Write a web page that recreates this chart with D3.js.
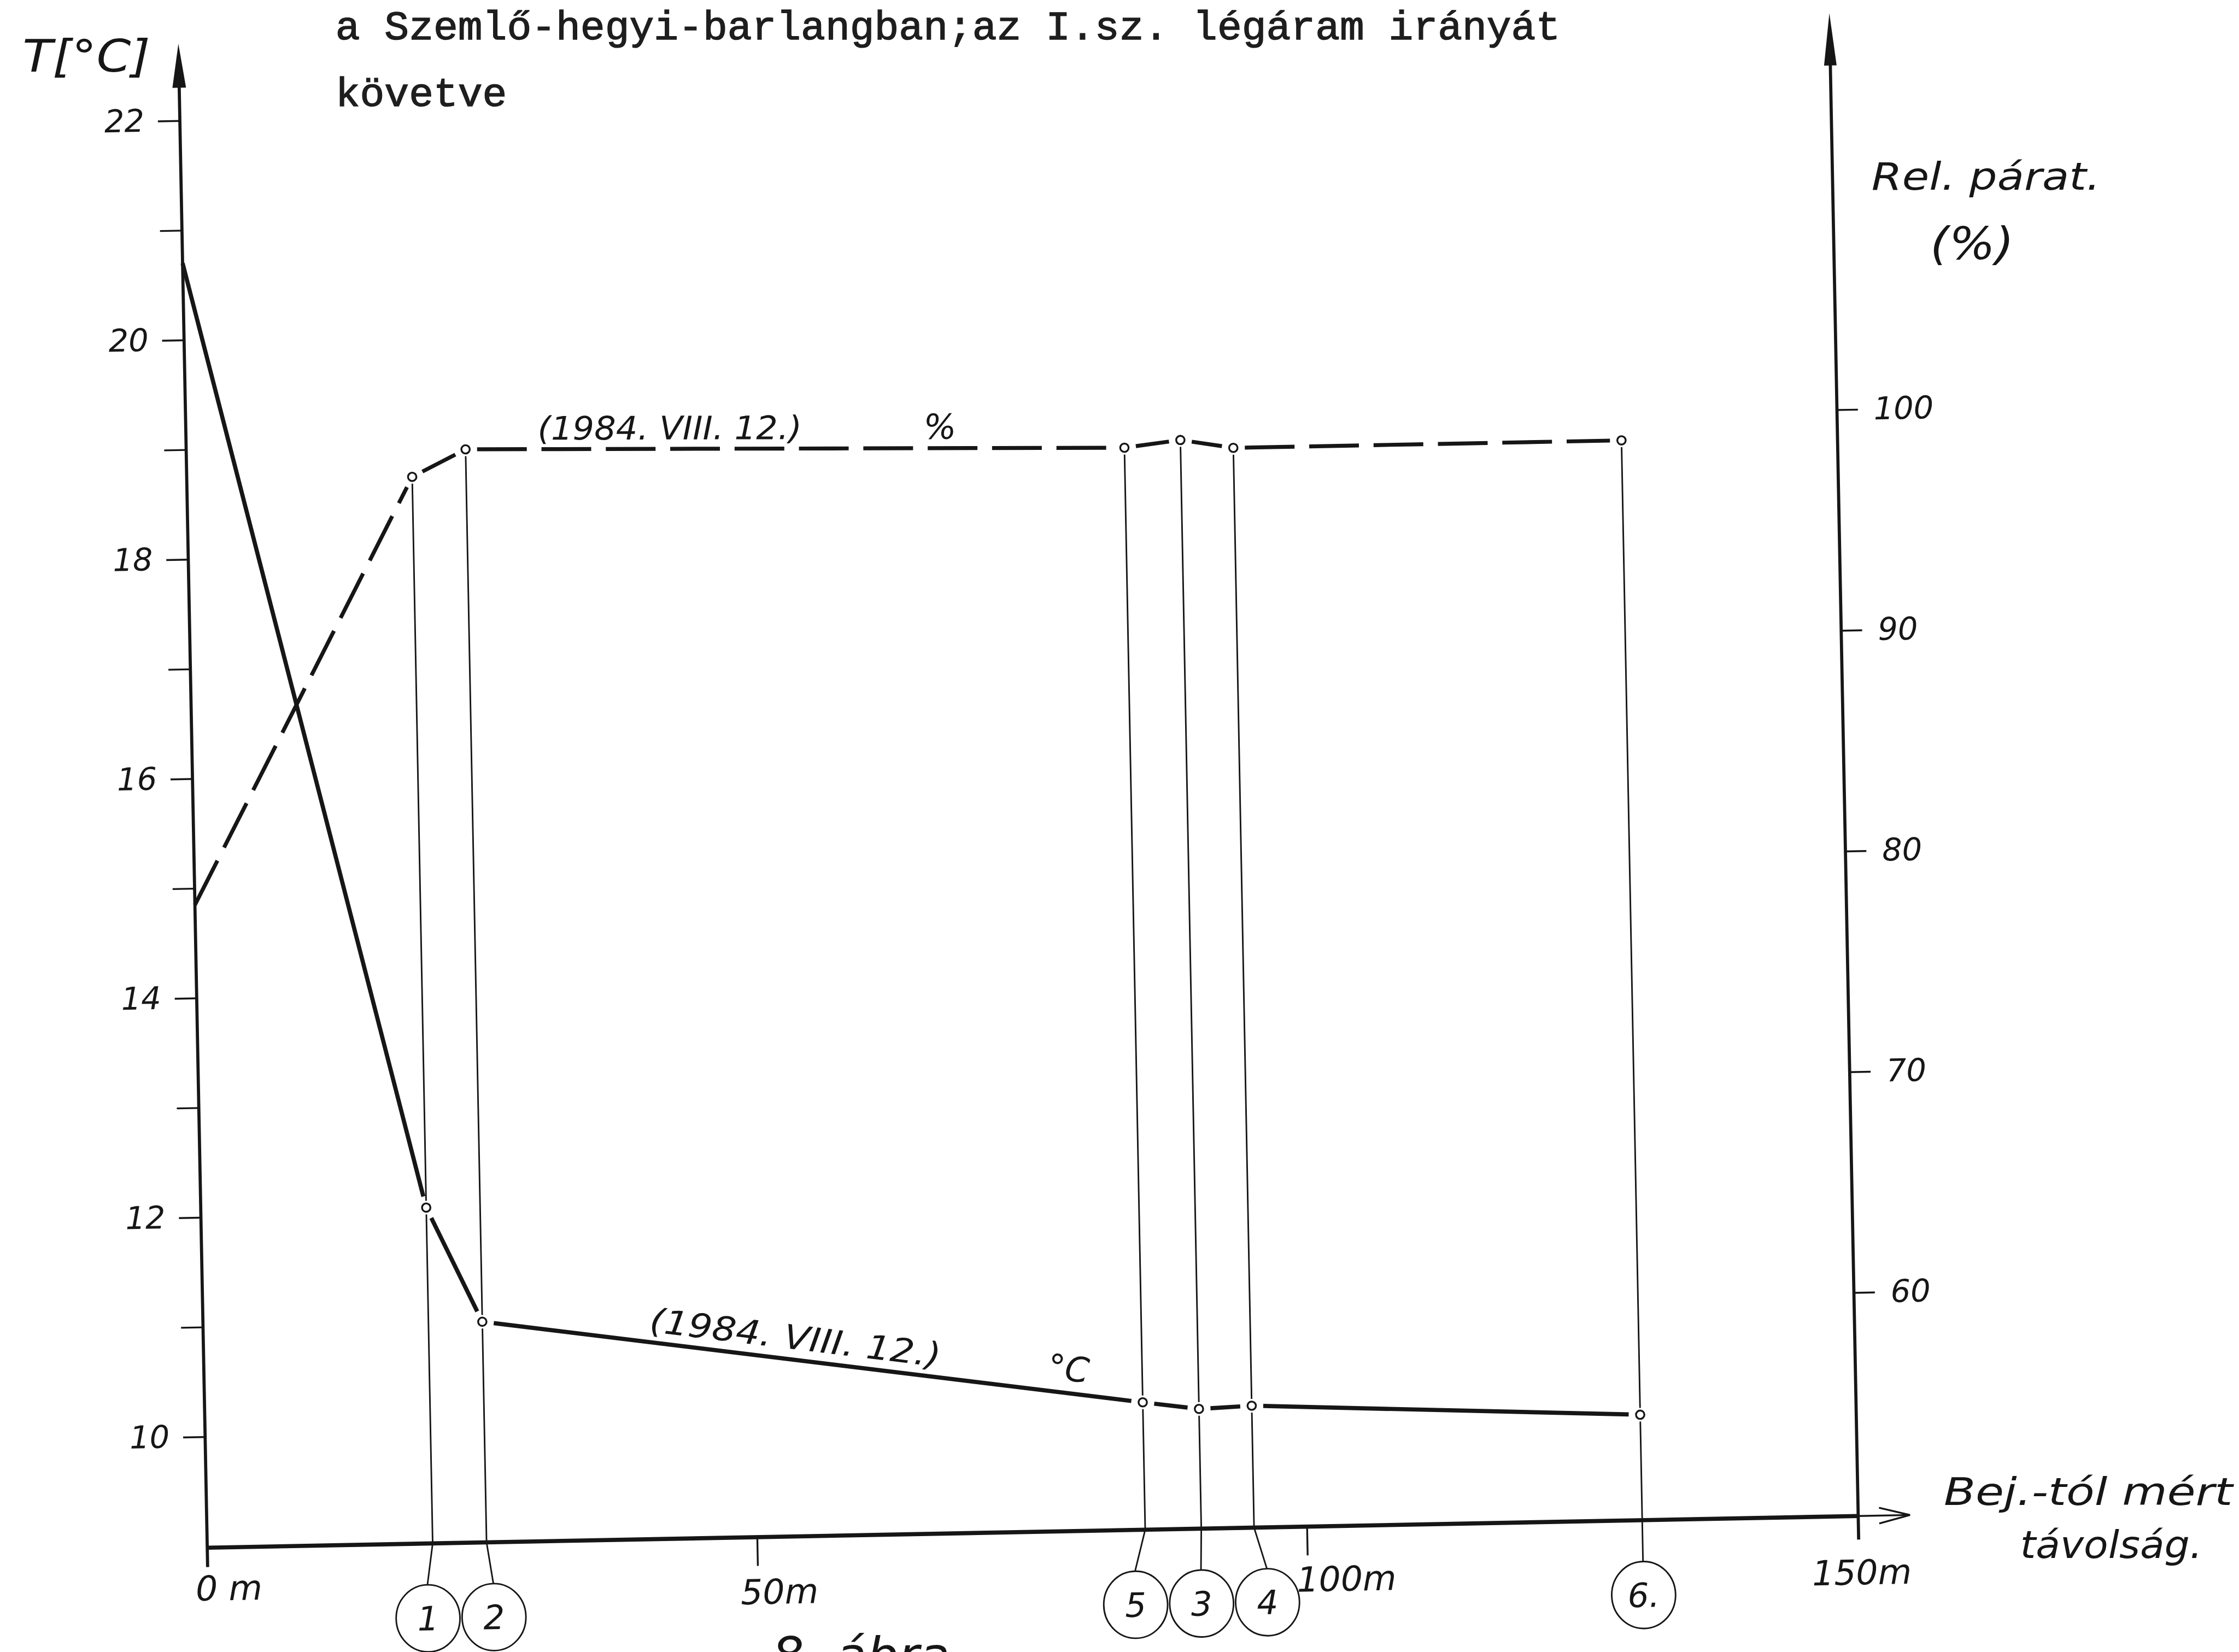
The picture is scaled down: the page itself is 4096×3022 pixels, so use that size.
<!DOCTYPE html>
<html>
<head>
<meta charset="utf-8">
<script src="https://cdn.jsdelivr.net/npm/d3@7"></script>
<style>
  html, body { margin: 0; padding: 0; background: #fff; overflow: hidden; }
  svg { display: block; }
  .hand { font-family: "DejaVu Sans", sans-serif; font-style: italic; font-weight: 200; }
  .typed { font-family: "Liberation Mono", "DejaVu Sans Mono", monospace; font-weight: normal; }
</style>
</head>
<body>
<svg id="chart"></svg>
<script>
// stations along the I. air current, distance from the entrance (m)
const distances = [0, 20.5, 25.4, 85.3, 90.4, 95.2, 130.5];
const temperature = [20.7, 12.05, 11.0, 10.15, 10.08, 10.1, 9.95];   // °C
const humidity = [79.0, 98.2, 99.4, 98.9, 99.2, 98.8, 98.8];         // %
const stationLabels = [null, "1", "2", "5", "3", "4", "6."];

const tempTicks = d3.range(10, 23);                 // labelled every 2 °C
const humidityTicks = [60, 70, 80, 90, 100];
const distanceTicks = [0, 50, 100, 150];
const distanceTickLabels = ["0 m", "50m", "100m", "150m"];

const titleLines = ["a Szemlő-hegyi-barlangban;az I.sz. légáram irányát", "követve"];
const dateLabel = "(1984. VIII. 12.)";

const W = 4278, H = 3156;
const ink = "#161616";

const svg = d3.select("#chart")
  .attr("width", 4096)
  .attr("height", 3022)
  .attr("viewBox", `0 0 ${W} ${H}`);

svg.append("rect").attr("width", W).attr("height", H).attr("fill", "#fff");

// the drawing sits slightly rotated on the sheet
const g = svg.append("g").attr("transform", "translate(391,2957) rotate(-1.1)");

const x = d3.scaleLinear().domain([0, 150]).range([5, 3157]);
const yT = d3.scaleLinear().domain([10, 22]).range([-212, -2727]);
const yH = d3.scaleLinear().domain([60, 100]).range([-427, -2114]);

const x0 = x(0), xR = x(150) + 3;

// ---- axes ----
function styleAxis(sel, size) {
  sel.attr("font-size", null).attr("font-family", null);
  sel.select(".domain").remove();
  sel.selectAll("line").attr("stroke", ink).attr("stroke-width", 3.5);
  sel.selectAll("text").attr("class", "hand").attr("font-size", size).attr("fill", ink);
}

g.append("g")
  .attr("transform", `translate(${x0},0)`)
  .call(d3.axisLeft(yT).tickValues(tempTicks).tickSize(42).tickPadding(26).tickSizeOuter(0)
    .tickFormat(d => d % 2 === 0 ? d : ""))
  .call(s => styleAxis(s, 60));

g.append("g")
  .attr("transform", `translate(${xR},0)`)
  .call(d3.axisRight(yH).tickValues(humidityTicks).tickSize(40).tickPadding(30).tickSizeOuter(0))
  .call(s => styleAxis(s, 60));

g.append("g")
  .call(d3.axisBottom(x).tickValues([50, 100]).tickSize(55).tickSizeOuter(0).tickFormat(""))
  .call(s => styleAxis(s, 60));

// left axis with arrow
g.append("line").attr("x1", x0).attr("x2", x0).attr("y1", 37).attr("y2", -2800)
  .attr("stroke", ink).attr("stroke-width", 6);
g.append("path").attr("d", `M${x0},-2874 L${x0 - 13},-2790 L${x0 + 13},-2790 Z`).attr("fill", ink);

// right axis with arrow
g.append("line").attr("x1", xR).attr("x2", xR).attr("y1", 45).attr("y2", -2790)
  .attr("stroke", ink).attr("stroke-width", 6);
g.append("path").attr("d", `M${xR},-2872 L${xR - 12},-2772 L${xR + 12},-2772 Z`).attr("fill", ink);

// distance axis
g.append("line").attr("x1", x0).attr("x2", xR).attr("y1", 0).attr("y2", 0)
  .attr("stroke", ink).attr("stroke-width", 8);
g.append("line").attr("x1", xR).attr("x2", 3258).attr("y1", 0).attr("y2", 0)
  .attr("stroke", ink).attr("stroke-width", 3.5);
g.append("path").attr("d", "M3200,-15 L3259,0 L3200,15")
  .attr("fill", "none").attr("stroke", ink).attr("stroke-width", 3.5);

// distance labels (hand placed beside the ticks)
const labelNudge = { 0: [40, -27], 50: [41, 0], 100: [74, -4], 150: [8, 3] };
g.selectAll(".xlab").data(distanceTicks).join("text")
  .attr("class", "hand")
  .attr("x", d => x(d) + labelNudge[d][0])
  .attr("y", d => 128 + labelNudge[d][1])
  .attr("text-anchor", "middle")
  .attr("font-size", 66)
  .attr("fill", ink)
  .text((d, i) => distanceTickLabels[i]);

// ---- measuring stations: verticals, circled numbers ----
const gap = 22;
const stationIdx = d3.range(1, distances.length);
const circleRx = 61, circleRy = 64, circleCy = 143;

// spread circled numbers so that neighbours do not overlap
function spread(xs, minGap) {
  let groups = xs.map((v, i) => [i]);
  const place = grp => {
    const m = d3.mean(grp, i => xs[i]);
    return grp.map((i, j) => m + (j - (grp.length - 1) / 2) * minGap);
  };
  let merged = true;
  while (merged) {
    merged = false;
    for (let k = 0; k < groups.length - 1; k++) {
      const pa = place(groups[k]), pb = place(groups[k + 1]);
      if (pb[0] - pa[pa.length - 1] < minGap) {
        groups.splice(k, 2, groups[k].concat(groups[k + 1]));
        merged = true;
        break;
      }
    }
  }
  const out = xs.slice();
  groups.forEach(grp => place(grp).forEach((p, j) => { out[grp[j]] = p; }));
  return out;
}
const circleX = spread(stationIdx.map(i => x(distances[i])), 2 * circleRx + 4);

const stations = g.append("g").attr("stroke", ink).attr("stroke-width", 3).attr("fill", "none");
stationIdx.forEach((i, k) => {
  const sx = x(distances[i]);
  const yTop = yH(humidity[i]), ySol = yT(temperature[i]);
  stations.append("line").attr("x1", sx).attr("x2", sx).attr("y1", yTop + 13).attr("y2", ySol - 13);
  stations.append("path").attr("d", d3.line()([[sx, ySol + 13], [sx, 0], [circleX[k], circleCy - circleRy]]));
  stations.append("ellipse").attr("cx", circleX[k]).attr("cy", circleCy).attr("rx", circleRx).attr("ry", circleRy);
  g.append("text").attr("class", "hand")
    .attr("x", circleX[k]).attr("y", circleCy + 23)
    .attr("text-anchor", "middle").attr("font-size", 64).attr("fill", ink)
    .text(stationLabels[i]);
});

// ---- series ----
function segments(vals, yScale) {
  const pts = distances.map((d, i) => [x(d), yScale(vals[i])]);
  return d3.pairs(pts).map(([a, b], i) => {
    const dx = b[0] - a[0], dy = b[1] - a[1], len = Math.hypot(dx, dy);
    const ux = dx / len, uy = dy / len;
    const g0 = i === 0 ? 0 : gap;
    return [[a[0] + ux * g0, a[1] + uy * g0], [b[0] - ux * gap, b[1] - uy * gap]];
  });
}

g.append("g").selectAll("path").data(segments(humidity, yH)).join("path")
  .attr("d", d3.line())
  .attr("fill", "none").attr("stroke", ink).attr("stroke-width", 7.5)
  .attr("stroke-dasharray", "95 28");

g.append("g").selectAll("path").data(segments(temperature, yT)).join("path")
  .attr("d", d3.line())
  .attr("fill", "none").attr("stroke", ink).attr("stroke-width", 8);

const markers = g.append("g").attr("fill", "#fff").attr("stroke", ink).attr("stroke-width", 3.5);
stationIdx.forEach(i => {
  markers.append("circle").attr("cx", x(distances[i])).attr("cy", yH(humidity[i])).attr("r", 8);
  markers.append("circle").attr("cx", x(distances[i])).attr("cy", yT(temperature[i])).attr("r", 8);
});

// labels written along a segment of a series
function along(vals, yScale, seg, t, offset, txt, size, len) {
  const a = [x(distances[seg]), yScale(vals[seg])];
  const b = [x(distances[seg + 1]), yScale(vals[seg + 1])];
  const ang = Math.atan2(b[1] - a[1], b[0] - a[0]);
  const px = a[0] + (b[0] - a[0]) * t + Math.sin(ang) * offset;
  const py = a[1] + (b[1] - a[1]) * t - Math.cos(ang) * offset;
  const el = g.append("text").attr("class", "hand")
    .attr("transform", `translate(${px},${py}) rotate(${ang * 180 / Math.PI})`)
    .attr("text-anchor", "middle").attr("font-size", size).attr("fill", ink)
    .text(txt);
  if (len) el.attr("textLength", len).attr("lengthAdjust", "spacingAndGlyphs");
}

along(humidity, yH, 2, 0.31, 18, dateLabel, 62, 505);
along(humidity, yH, 2, 0.72, 18, "%", 66);
along(temperature, yT, 2, 0.47, 20, dateLabel, 64, 560);
along(temperature, yT, 2, 0.883, 24, "°C", 66);

// ---- texts on the sheet ----
svg.append("g").attr("class", "typed").attr("fill", "#1e1e1e").attr("stroke", "#1e1e1e")
  .attr("stroke-width", 1.6).attr("font-size", 78)
  .selectAll("text").data(titleLines).join("text")
  .attr("x", 641).attr("y", (d, i) => 75 + i * 128)
  .text(d => d);

const handText = [
  { t: "T[°C]", x: 43, y: 137, size: 85, len: 244 },
  { t: "Rel. párat.", x: 3576, y: 362, size: 72, len: 437 },
  { t: "(%)", x: 3688, y: 495, size: 85, len: 160 },
  { t: "Bej.-tól mért", x: 3714, y: 2875, size: 72, len: 552 },
  { t: "távolság.", x: 3860, y: 2977, size: 72, len: 348 },
  { t: "8. ábra", x: 1475, y: 3196, size: 95, len: 340 }
];
svg.append("g").selectAll("text").data(handText).join("text")
  .attr("class", "hand")
  .attr("x", d => d.x).attr("y", d => d.y)
  .attr("font-size", d => d.size).attr("fill", ink)
  .attr("textLength", d => d.len).attr("lengthAdjust", "spacingAndGlyphs")
  .text(d => d.t);
</script>
</body>
</html>
